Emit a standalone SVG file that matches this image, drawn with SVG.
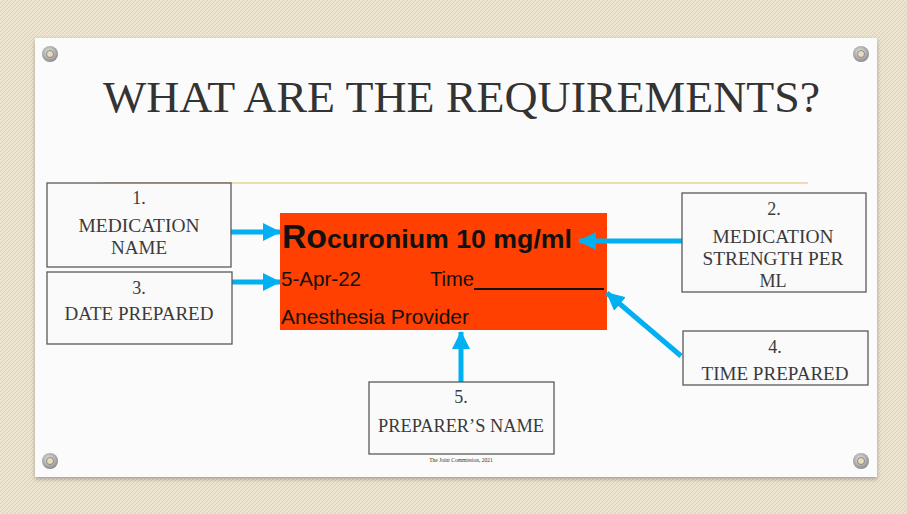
<svg xmlns="http://www.w3.org/2000/svg" width="907" height="514" viewBox="0 0 907 514">
<defs>
<pattern id="canvas" width="4" height="4" patternUnits="userSpaceOnUse">
<rect width="4" height="4" fill="#ebe2cb"/>
<path d="M0 4 L4 0" stroke="#ddd2b6" stroke-width="1"/>
<path d="M0 0 L4 4" stroke="#f3ecdb" stroke-width="0.6"/>
</pattern>
<radialGradient id="grom" cx="0.45" cy="0.4" r="0.6">
<stop offset="0" stop-color="#eeeeee"/>
<stop offset="1" stop-color="#8a8a8a"/>
</radialGradient>
<filter id="shadow" x="-5%" y="-5%" width="110%" height="115%">
<feDropShadow dx="0" dy="2" stdDeviation="2" flood-color="#000" flood-opacity="0.3"/>
</filter>
<marker id="arrow" markerUnits="userSpaceOnUse" markerWidth="18" markerHeight="18" viewBox="0 0 18 18" refX="17" refY="9" orient="auto">
<path d="M0 0 L18 9 L0 18 Z" fill="#00b0f0"/>
</marker>
</defs>
<style>
.box{fill:#fafafa;stroke:#595959;stroke-width:1.3}
.bt{font-family:"Liberation Serif",serif;font-size:18px;fill:#3a3a3a;text-anchor:middle}
.lbl{font-family:"Liberation Sans",Arial,sans-serif;fill:#111}
.conn{stroke:#00b0f0;stroke-width:5;fill:none}
</style>
<rect width="907" height="514" fill="url(#canvas)"/>
<rect x="35" y="38" width="842" height="439" fill="#fbfbfb" filter="url(#shadow)"/>
<g id="grommets">
<circle cx="50" cy="54" r="8" fill="url(#grom)"/><circle cx="50" cy="54" r="3.5" fill="#e6dcc0" stroke="#777" stroke-width="0.8"/>
<circle cx="861" cy="54" r="8" fill="url(#grom)"/><circle cx="861" cy="54" r="3.5" fill="#e6dcc0" stroke="#777" stroke-width="0.8"/>
<circle cx="50" cy="461" r="8" fill="url(#grom)"/><circle cx="50" cy="461" r="3.5" fill="#e6dcc0" stroke="#777" stroke-width="0.8"/>
<circle cx="861" cy="461" r="8" fill="url(#grom)"/><circle cx="861" cy="461" r="3.5" fill="#e6dcc0" stroke="#777" stroke-width="0.8"/>
</g>
<g id="title">
<text x="103" y="112" font-family="Liberation Serif,serif" font-size="44" fill="#333" textLength="717" lengthAdjust="spacingAndGlyphs">WHAT ARE THE REQUIREMENTS?</text>
<line x1="103" y1="183" x2="808" y2="183" stroke="#ecd396" stroke-width="1.5"/>
</g>
<g id="label">
<rect x="280" y="213" width="327" height="117" fill="#ff4000"/>
<text class="lbl" x="282" y="248" font-weight="bold" font-size="33" textLength="45" lengthAdjust="spacingAndGlyphs">Ro</text>
<text class="lbl" x="327" y="248" font-weight="bold" font-size="26" textLength="245" lengthAdjust="spacingAndGlyphs">curonium 10 mg/ml</text>
<text class="lbl" x="281" y="286" font-size="21" textLength="80" lengthAdjust="spacingAndGlyphs">5-Apr-22</text>
<text class="lbl" x="430" y="286" font-size="21" textLength="44" lengthAdjust="spacingAndGlyphs">Time</text>
<line x1="474" y1="289" x2="604" y2="289" stroke="#111" stroke-width="2"/>
<text class="lbl" x="281" y="324" font-size="21" textLength="188" lengthAdjust="spacingAndGlyphs">Anesthesia Provider</text>
</g>
<g id="connectors">
<line class="conn" x1="231" y1="232" x2="280" y2="232" marker-end="url(#arrow)"/>
<line class="conn" x1="232" y1="282" x2="280" y2="282" marker-end="url(#arrow)"/>
<line class="conn" x1="682" y1="241" x2="579" y2="241" marker-end="url(#arrow)"/>
<line class="conn" x1="681" y1="356" x2="607" y2="293" marker-end="url(#arrow)"/>
<line class="conn" x1="461" y1="382" x2="461" y2="332" marker-end="url(#arrow)"/>
</g>
<g id="box1">
<rect class="box" x="47" y="183" width="184" height="84"/>
<text class="bt" x="139" y="204">1.</text>
<text class="bt" x="139" y="232" textLength="121" lengthAdjust="spacingAndGlyphs">MEDICATION</text>
<text class="bt" x="139" y="254" textLength="56" lengthAdjust="spacingAndGlyphs">NAME</text>
</g>
<g id="box3">
<rect class="box" x="47" y="272" width="185" height="72"/>
<text class="bt" x="139" y="294">3.</text>
<text class="bt" x="139" y="320" textLength="149" lengthAdjust="spacingAndGlyphs">DATE PREPARED</text>
</g>
<g id="box2">
<rect class="box" x="682" y="193" width="184" height="99"/>
<text class="bt" x="774" y="215">2.</text>
<text class="bt" x="773" y="243" textLength="121" lengthAdjust="spacingAndGlyphs">MEDICATION</text>
<text class="bt" x="773" y="265" textLength="141" lengthAdjust="spacingAndGlyphs">STRENGTH PER</text>
<text class="bt" x="773" y="287" textLength="27" lengthAdjust="spacingAndGlyphs">ML</text>
</g>
<g id="box4">
<rect class="box" x="683" y="331" width="185" height="54"/>
<text class="bt" x="775" y="353">4.</text>
<text class="bt" x="775" y="380" textLength="147" lengthAdjust="spacingAndGlyphs">TIME PREPARED</text>
</g>
<g id="box5">
<rect class="box" x="369" y="382" width="185" height="72"/>
<text class="bt" x="461" y="403">5.</text>
<text class="bt" x="461" y="432" textLength="166" lengthAdjust="spacingAndGlyphs">PREPARER’S NAME</text>
</g>
<text x="461" y="462" font-family="Liberation Serif,serif" font-size="5.5" fill="#333" text-anchor="middle">The Joint Commission, 2021</text>
</svg>
